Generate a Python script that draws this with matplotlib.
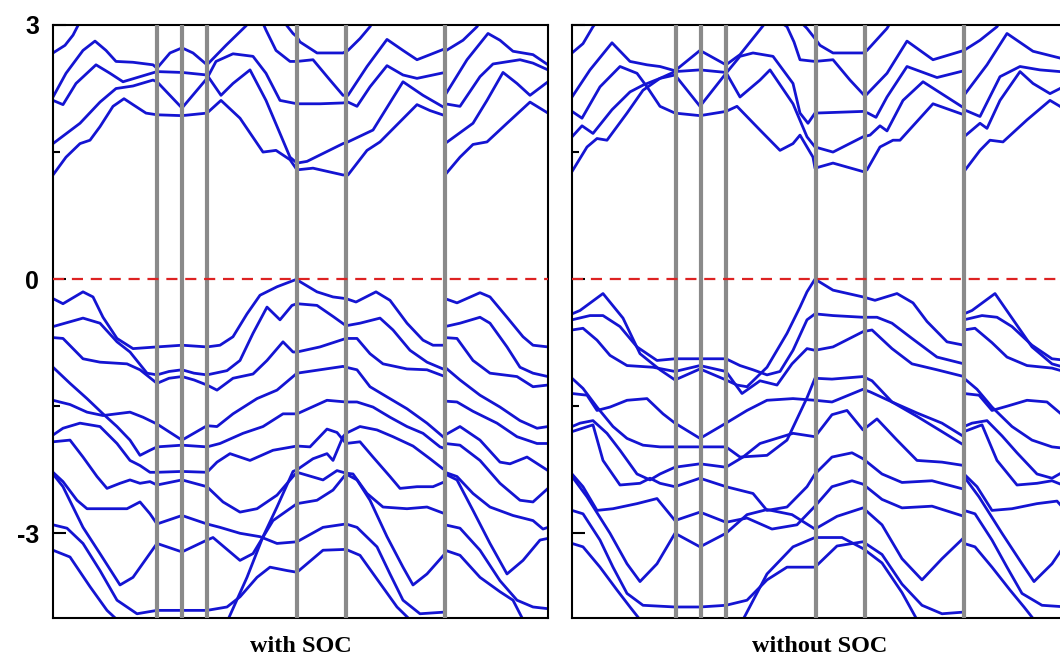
import matplotlib.pyplot as plt

# band structure along the k-path, energies in eV (E_F = 0)
k_lines = [1.04, 1.29, 1.54, 2.44, 2.93, 3.92]
k_end = 4.95
e_ticks = [-3, 0, 3]
e_minor = [-1.5, 1.5]
panel_titles = ["with SOC", "without SOC"]

# ---- with SOC ----
soc_cond = [
    [(0, 2.67), (0.12, 2.76), (0.20, 2.88), (0.27, 3.04)],
    [(0, 2.15), (0.13, 2.43), (0.30, 2.70), (0.42, 2.81), (0.53, 2.70), (0.63, 2.57), (0.80, 2.56),
     (1.00, 2.53), (1.04, 2.49), (1.17, 2.67), (1.29, 2.73), (1.40, 2.67), (1.54, 2.53), (1.73, 2.76),
     (1.93, 2.99), (2.00, 3.08)],
    [(0, 2.11), (0.10, 2.06), (0.23, 2.31), (0.43, 2.53), (0.57, 2.43), (0.70, 2.33), (0.87, 2.39),
     (1.04, 2.45), (1.29, 2.44), (1.54, 2.41), (1.68, 2.17), (1.80, 2.31), (1.97, 2.47), (2.13, 2.11),
     (2.27, 1.72), (2.37, 1.44), (2.44, 1.37), (2.54, 1.39), (2.90, 1.60), (2.95, 1.62), (3.20, 1.76),
     (3.50, 2.33), (3.70, 2.17), (3.92, 2.02)],
    [(0, 1.60), (0.27, 1.84), (0.47, 2.09), (0.63, 2.25), (0.80, 2.28), (1.00, 2.35), (1.04, 2.33),
     (1.29, 2.02), (1.54, 2.37), (1.63, 2.57), (1.80, 2.66), (2.00, 2.63), (2.13, 2.43), (2.27, 2.11),
     (2.44, 2.07), (2.67, 2.07), (2.90, 2.08), (2.95, 2.09), (3.04, 2.04), (3.17, 2.27), (3.34, 2.52),
     (3.50, 2.41), (3.64, 2.37), (3.92, 2.44)],
    [(0, 1.23), (0.13, 1.44), (0.27, 1.60), (0.37, 1.64), (0.47, 1.80), (0.60, 2.04), (0.71, 2.13),
     (0.80, 2.06), (0.93, 1.96), (1.04, 1.94), (1.29, 1.93), (1.54, 1.96), (1.68, 2.11), (1.87, 1.90),
     (2.10, 1.50), (2.23, 1.52), (2.37, 1.41), (2.44, 1.29), (2.60, 1.31), (2.90, 1.23), (2.95, 1.23),
     (3.14, 1.52), (3.27, 1.62), (3.64, 2.06), (3.77, 1.99), (3.92, 1.93)],
    [(2.10, 3.02), (2.13, 2.94), (2.23, 2.70), (2.37, 2.57), (2.44, 2.57), (2.60, 2.59), (2.77, 2.35),
     (2.90, 2.17), (2.95, 2.17), (3.14, 2.51), (3.34, 2.83), (3.50, 2.70), (3.64, 2.59), (3.77, 2.65),
     (3.92, 2.72)],
    [(2.32, 3.02), (2.40, 2.90), (2.44, 2.86), (2.47, 2.80), (2.64, 2.67), (2.90, 2.67), (2.95, 2.70),
     (3.07, 2.84), (3.17, 2.98), (3.20, 3.04)],
    # last segment
    [(3.92, 2.69), (4.10, 2.82), (4.24, 2.98), (4.27, 3.04)],
    [(3.92, 2.17), (4.14, 2.59), (4.35, 2.90), (4.47, 2.82), (4.60, 2.69), (4.80, 2.65), (4.95, 2.53)],
    [(3.92, 2.07), (4.07, 2.04), (4.27, 2.39), (4.40, 2.54), (4.67, 2.59), (4.80, 2.55), (4.95, 2.47)],
    [(3.92, 1.60), (4.20, 1.84), (4.34, 2.11), (4.50, 2.44), (4.64, 2.31), (4.77, 2.17), (4.95, 2.33)],
    [(3.92, 1.23), (4.07, 1.44), (4.20, 1.59), (4.34, 1.62), (4.54, 1.84), (4.77, 2.09), (4.95, 1.96)],
]

soc_val = [
    [(0, -0.23), (0.10, -0.29), (0.30, -0.15), (0.40, -0.21), (0.50, -0.45), (0.64, -0.70), (0.80, -0.82),
     (1.04, -0.80), (1.29, -0.78), (1.54, -0.80), (1.67, -0.78), (1.80, -0.68), (1.94, -0.41), (2.07, -0.19),
     (2.24, -0.09), (2.44, 0.0), (2.47, -0.03), (2.64, -0.15), (2.80, -0.21), (2.93, -0.23), (3.03, -0.27),
     (3.23, -0.15), (3.37, -0.25), (3.54, -0.52), (3.70, -0.72), (3.80, -0.78), (3.92, -0.78)],
    [(0, -0.56), (0.30, -0.46), (0.47, -0.52), (0.64, -0.74), (0.77, -0.86), (0.94, -1.11), (1.04, -1.13),
     (1.16, -1.09), (1.29, -1.07), (1.41, -1.11), (1.54, -1.13), (1.74, -1.08), (1.87, -0.96), (2.00, -0.64),
     (2.14, -0.33), (2.27, -0.48), (2.39, -0.31), (2.44, -0.29), (2.64, -0.31), (2.80, -0.44), (2.93, -0.55),
     (3.07, -0.52), (3.27, -0.46), (3.40, -0.60), (3.57, -0.84), (3.74, -0.98), (3.92, -1.07)],
    [(0, -0.69), (0.10, -0.70), (0.30, -0.94), (0.47, -0.98), (0.74, -1.00), (0.87, -1.07), (1.04, -1.23),
     (1.16, -1.17), (1.29, -1.15), (1.41, -1.19), (1.54, -1.25), (1.64, -1.31), (1.80, -1.17), (2.00, -1.12),
     (2.14, -0.96), (2.30, -0.74), (2.40, -0.86), (2.44, -0.86), (2.67, -0.80), (2.93, -0.70), (3.04, -0.70),
     (3.17, -0.88), (3.30, -1.00), (3.54, -1.06), (3.74, -1.07), (3.92, -1.15)],
    [(0, -1.04), (0.17, -1.23), (0.34, -1.41), (0.50, -1.59), (0.64, -1.74), (0.77, -1.90), (0.87, -2.08),
     (0.97, -2.02), (1.04, -1.98), (1.29, -1.96), (1.54, -1.98), (1.67, -1.94), (1.90, -1.82), (2.10, -1.74),
     (2.30, -1.59), (2.44, -1.59), (2.74, -1.43), (2.93, -1.45), (3.04, -1.45), (3.20, -1.51), (3.37, -1.63),
     (3.54, -1.74), (3.70, -1.82), (3.87, -1.98), (3.92, -2.00)],
    [(0, -1.43), (0.17, -1.48), (0.34, -1.57), (0.50, -1.61), (0.77, -1.57), (0.90, -1.63), (1.04, -1.71),
     (1.29, -1.90), (1.54, -1.73), (1.64, -1.74), (1.80, -1.59), (2.04, -1.41), (2.24, -1.31), (2.44, -1.11),
     (2.67, -1.07), (2.90, -1.03), (2.93, -1.04), (3.04, -1.07), (3.17, -1.27), (3.34, -1.39), (3.54, -1.53),
     (3.74, -1.70), (3.92, -1.88)],
    [(0, -1.84), (0.10, -1.76), (0.27, -1.70), (0.47, -1.74), (0.64, -1.94), (0.77, -2.14), (0.87, -2.20),
     (0.97, -2.28), (1.04, -2.28), (1.29, -2.27), (1.54, -2.28), (1.64, -2.16), (1.77, -2.06), (1.97, -2.14),
     (2.20, -2.02), (2.44, -1.97), (2.57, -1.98), (2.74, -1.77), (2.84, -1.81), (2.93, -1.94), (3.07, -1.92),
     (3.20, -2.10), (3.37, -2.33), (3.47, -2.47), (3.64, -2.45), (3.80, -2.45), (3.92, -2.39)],
    [(0, -1.92), (0.17, -1.90), (0.30, -2.10), (0.44, -2.33), (0.54, -2.47), (0.67, -2.41), (0.77, -2.37),
     (0.87, -2.41), (0.97, -2.39), (1.04, -2.43), (1.29, -2.37), (1.54, -2.45), (1.70, -2.63), (1.87, -2.75),
     (2.04, -2.71), (2.24, -2.55), (2.40, -2.33), (2.44, -2.28), (2.70, -2.37), (2.84, -2.26), (2.93, -2.29),
     (3.00, -2.30), (3.14, -2.53), (3.30, -2.69), (3.54, -2.71), (3.74, -2.69), (3.92, -2.77)],
    [(0, -2.28), (0.10, -2.39), (0.24, -2.61), (0.34, -2.71), (0.74, -2.71), (0.87, -2.63), (0.97, -2.77),
     (1.04, -2.89), (1.29, -2.79), (1.54, -2.89), (1.67, -2.93), (1.87, -3.00), (2.07, -3.04), (2.24, -3.12),
     (2.44, -3.10), (2.70, -2.93), (2.93, -2.89), (3.04, -2.93), (3.24, -3.16), (3.37, -3.48), (3.50, -3.79),
     (3.67, -3.95), (3.92, -3.93)],
    [(0, -2.30), (0.10, -2.45), (0.30, -2.93), (0.47, -3.24), (0.67, -3.61), (0.80, -3.52), (1.04, -3.12),
     (1.29, -3.22), (1.54, -3.08), (1.60, -3.05), (1.87, -3.32), (2.00, -3.24), (2.20, -2.85), (2.44, -2.65),
     (2.64, -2.61), (2.80, -2.49), (2.93, -2.30), (3.04, -2.37), (3.17, -2.61), (3.34, -3.04), (3.50, -3.40),
     (3.60, -3.61), (3.74, -3.48), (3.92, -3.24)],
    [(0, -2.90), (0.14, -2.94), (0.30, -3.12), (0.47, -3.44), (0.64, -3.79), (0.84, -3.95), (1.04, -3.91),
     (1.29, -3.91), (1.54, -3.91), (1.74, -3.87), (1.87, -3.75), (2.04, -3.52), (2.17, -3.40), (2.34, -3.44),
     (2.44, -3.46), (2.70, -3.20), (2.93, -3.19), (3.07, -3.26), (3.27, -3.59), (3.44, -3.87), (3.57, -4.02)],
    [(0, -3.20), (0.17, -3.28), (0.37, -3.63), (0.54, -3.91), (0.64, -4.02)],
    [(1.75, -4.02), (1.94, -3.52), (2.10, -3.04), (2.24, -2.69), (2.40, -2.27), (2.44, -2.25), (2.60, -2.12),
     (2.74, -2.06), (2.80, -2.14), (2.90, -1.86), (2.93, -1.82), (3.07, -1.74), (3.24, -1.78), (3.40, -1.86),
     (3.60, -1.97), (3.77, -2.12), (3.90, -2.24), (3.92, -2.25)],
    # last segment
    [(3.92, -0.23), (4.04, -0.28), (4.27, -0.16), (4.37, -0.21), (4.54, -0.45), (4.70, -0.68), (4.80, -0.78),
     (4.95, -0.80)],
    [(3.92, -0.56), (4.07, -0.52), (4.27, -0.45), (4.37, -0.52), (4.54, -0.80), (4.67, -1.04), (4.80, -1.11),
     (4.95, -1.15)],
    [(3.92, -0.69), (4.04, -0.70), (4.20, -0.96), (4.37, -1.11), (4.64, -1.15), (4.80, -1.27), (4.95, -1.25)],
    [(3.92, -1.04), (4.07, -1.19), (4.27, -1.37), (4.47, -1.51), (4.67, -1.67), (4.84, -1.76), (4.95, -1.74)],
    [(3.92, -1.44), (4.04, -1.45), (4.20, -1.56), (4.44, -1.70), (4.64, -1.86), (4.84, -1.94), (4.95, -1.94)],
    [(3.92, -1.84), (4.07, -1.74), (4.27, -1.90), (4.47, -2.16), (4.57, -2.18), (4.74, -2.10), (4.95, -2.26)],
    [(3.92, -1.94), (4.07, -1.96), (4.27, -2.14), (4.47, -2.41), (4.67, -2.61), (4.80, -2.63), (4.95, -2.47)],
    [(3.92, -2.28), (4.04, -2.33), (4.20, -2.53), (4.37, -2.69), (4.60, -2.79), (4.80, -2.85), (4.90, -2.95),
     (4.95, -2.93)],
    [(3.92, -2.30), (4.04, -2.37), (4.20, -2.73), (4.37, -3.12), (4.54, -3.48), (4.70, -3.32), (4.87, -3.08),
     (4.95, -3.06)],
    [(3.92, -2.90), (4.07, -2.94), (4.27, -3.20), (4.47, -3.56), (4.64, -3.79), (4.80, -3.87), (4.95, -3.89)],
    [(3.92, -3.20), (4.07, -3.26), (4.27, -3.52), (4.47, -3.69), (4.60, -3.79), (4.70, -4.02)],
]

# ---- without SOC ----
nosoc_cond = [
    [(0, 2.67), (0.11, 2.78), (0.21, 2.98), (0.25, 3.04)],
    [(0, 2.15), (0.18, 2.47), (0.40, 2.79), (0.58, 2.57), (0.75, 2.53), (0.88, 2.51), (1.03, 2.46),
     (1.28, 2.70), (1.54, 2.53), (1.68, 2.65), (1.91, 2.99), (1.95, 3.06)],
    [(0, 1.98), (0.10, 1.90), (0.28, 2.27), (0.48, 2.51), (0.65, 2.43), (0.75, 2.27), (0.88, 2.04),
     (1.03, 1.96), (1.28, 1.93), (1.54, 1.98), (1.65, 2.04), (1.88, 1.76), (2.08, 1.52), (2.21, 1.60),
     (2.28, 1.70), (2.41, 1.44), (2.43, 1.31), (2.61, 1.37), (2.91, 1.27), (2.95, 1.29), (3.08, 1.56),
     (3.21, 1.64), (3.28, 1.64), (3.61, 2.07), (3.92, 1.94)],
    [(0, 1.68), (0.10, 1.81), (0.21, 1.72), (0.40, 2.00), (0.58, 2.21), (0.71, 2.29), (0.88, 2.37),
     (1.03, 2.45), (1.28, 2.47), (1.54, 2.44), (1.68, 2.15), (1.88, 2.35), (1.98, 2.47), (2.21, 2.07),
     (2.35, 1.68), (2.43, 1.56), (2.61, 1.50), (2.91, 1.68), (2.98, 1.70), (3.08, 1.81), (3.15, 1.75),
     (3.31, 2.11), (3.51, 2.33), (3.92, 2.02)],
    [(0, 1.27), (0.15, 1.56), (0.25, 1.66), (0.35, 1.64), (0.55, 1.96), (0.71, 2.23), (0.88, 2.37),
     (1.03, 2.41), (1.28, 2.04), (1.54, 2.43), (1.68, 2.63), (1.81, 2.67), (2.01, 2.63), (2.21, 2.31),
     (2.28, 1.96), (2.36, 1.84), (2.43, 1.96), (2.91, 1.98), (2.96, 1.96), (3.04, 1.91), (3.15, 2.15),
     (3.35, 2.51), (3.65, 2.38), (3.92, 2.46)],
    [(2.10, 3.02), (2.15, 2.98), (2.22, 2.80), (2.28, 2.59), (2.43, 2.57), (2.61, 2.59), (2.78, 2.35),
     (2.93, 2.16), (3.15, 2.43), (3.35, 2.81), (3.61, 2.59), (3.92, 2.70)],
    [(2.30, 3.02), (2.35, 2.96), (2.43, 2.84), (2.48, 2.76), (2.61, 2.67), (2.91, 2.67), (2.95, 2.70),
     (3.15, 2.96), (3.18, 3.02)],
    [(3.92, 2.70), (4.08, 2.82), (4.25, 2.98), (4.28, 3.04)],
    [(3.92, 2.17), (4.15, 2.53), (4.35, 2.90), (4.61, 2.69), (4.88, 2.61), (4.95, 2.57)],
    [(3.92, 2.00), (4.08, 1.92), (4.28, 2.39), (4.48, 2.51), (4.68, 2.47), (4.88, 2.45), (4.95, 2.42)],
    [(3.92, 1.68), (4.08, 1.84), (4.15, 1.78), (4.28, 2.11), (4.48, 2.45), (4.61, 2.31), (4.78, 2.19),
     (4.88, 2.25), (4.95, 2.30)],
    [(3.92, 1.27), (4.08, 1.52), (4.18, 1.64), (4.31, 1.62), (4.55, 1.88), (4.78, 2.11), (4.88, 2.04),
     (4.95, 1.98)],
]

nosoc_val = [
    [(0, -0.41), (0.08, -0.37), (0.31, -0.17), (0.51, -0.46), (0.68, -0.88), (0.88, -1.07), (1.03, -1.19),
     (1.28, -1.06), (1.54, -1.19), (1.65, -1.25), (1.75, -1.27), (1.95, -1.04), (2.15, -0.64), (2.28, -0.33),
     (2.35, -0.15), (2.43, 0.0), (2.61, -0.13), (2.91, -0.21), (3.03, -0.25), (3.25, -0.17), (3.41, -0.28),
     (3.55, -0.50), (3.75, -0.74), (3.92, -0.78)],
    [(0, -0.48), (0.18, -0.43), (0.31, -0.43), (0.48, -0.56), (0.65, -0.80), (0.85, -0.96), (1.03, -0.94),
     (1.28, -0.94), (1.54, -0.94), (1.68, -1.02), (1.81, -1.07), (1.95, -1.13), (2.08, -1.09), (2.21, -0.84),
     (2.35, -0.48), (2.43, -0.41), (2.61, -0.43), (2.91, -0.45), (3.05, -0.45), (3.20, -0.52), (3.40, -0.70),
     (3.65, -0.92), (3.92, -1.00)],
    [(0, -0.60), (0.11, -0.58), (0.25, -0.72), (0.38, -0.90), (0.55, -1.02), (0.81, -1.04), (1.03, -1.09),
     (1.28, -1.02), (1.54, -1.09), (1.70, -1.35), (1.88, -1.20), (2.05, -1.25), (2.20, -1.00), (2.35, -0.82),
     (2.43, -0.84), (2.61, -0.80), (2.91, -0.62), (3.00, -0.60), (3.20, -0.82), (3.40, -1.00), (3.65, -1.07),
     (3.92, -1.15)],
    [(0, -1.17), (0.11, -1.29), (0.25, -1.51), (0.41, -1.74), (0.55, -1.88), (0.71, -1.96), (0.88, -1.98),
     (1.03, -1.98), (1.28, -1.98), (1.54, -1.98), (1.68, -2.10), (1.95, -2.08), (2.15, -1.90), (2.35, -1.40),
     (2.43, -1.17), (2.60, -1.18), (2.91, -1.15), (3.00, -1.20), (3.20, -1.45), (3.45, -1.58), (3.70, -1.70),
     (3.92, -1.86)],
    [(0, -1.35), (0.15, -1.37), (0.25, -1.55), (0.38, -1.51), (0.55, -1.43), (0.75, -1.41), (0.91, -1.59),
     (1.03, -1.70), (1.28, -1.88), (1.54, -1.70), (1.75, -1.55), (1.95, -1.43), (2.21, -1.41), (2.43, -1.43),
     (2.60, -1.45), (2.91, -1.30), (2.98, -1.33), (3.20, -1.45), (3.45, -1.62), (3.70, -1.80), (3.92, -1.96)],
    [(0, -1.74), (0.08, -1.70), (0.21, -1.67), (0.35, -1.82), (0.48, -2.02), (0.65, -2.30), (0.78, -2.37),
     (0.88, -2.30), (1.03, -2.22), (1.28, -2.18), (1.54, -2.22), (1.71, -2.10), (1.88, -1.94), (2.21, -1.82),
     (2.43, -1.86), (2.60, -1.60), (2.75, -1.55), (2.91, -1.78), (3.05, -1.65), (3.25, -1.90), (3.45, -2.14),
     (3.70, -2.16), (3.92, -2.20)],
    [(0, -1.80), (0.21, -1.72), (0.31, -2.14), (0.48, -2.43), (0.68, -2.41), (0.78, -2.35), (0.88, -2.41),
     (1.03, -2.45), (1.28, -2.35), (1.54, -2.45), (1.81, -2.53), (1.95, -2.73), (2.15, -2.69), (2.35, -2.45),
     (2.43, -2.30), (2.60, -2.10), (2.80, -2.05), (2.91, -2.12), (3.10, -2.30), (3.30, -2.40), (3.60, -2.38),
     (3.92, -2.48)],
    [(0, -2.30), (0.11, -2.45), (0.25, -2.73), (0.41, -2.71), (0.65, -2.65), (0.85, -2.59), (1.03, -2.85),
     (1.28, -2.75), (1.54, -2.87), (1.75, -2.82), (2.00, -2.95), (2.25, -2.90), (2.43, -2.68), (2.60, -2.45),
     (2.80, -2.38), (2.91, -2.42), (3.10, -2.60), (3.30, -2.70), (3.60, -2.68), (3.92, -2.80)],
    [(0, -2.33), (0.15, -2.57), (0.38, -3.00), (0.55, -3.36), (0.68, -3.57), (0.85, -3.36), (1.03, -3.00),
     (1.28, -3.16), (1.54, -3.00), (1.75, -2.78), (1.95, -2.72), (2.20, -2.78), (2.43, -2.95), (2.65, -2.80),
     (2.91, -2.70), (3.10, -2.90), (3.30, -3.30), (3.50, -3.55), (3.70, -3.30), (3.92, -3.05)],
    [(0, -2.73), (0.11, -2.77), (0.28, -3.08), (0.41, -3.40), (0.55, -3.71), (0.71, -3.85), (1.03, -3.87),
     (1.28, -3.87), (1.54, -3.85), (1.75, -3.79), (1.95, -3.55), (2.15, -3.40), (2.43, -3.40), (2.65, -3.15),
     (2.91, -3.10), (3.10, -3.25), (3.30, -3.60), (3.50, -3.85), (3.70, -3.95), (3.92, -3.93)],
    [(0, -3.12), (0.11, -3.16), (0.28, -3.40), (0.45, -3.67), (0.58, -3.87), (0.68, -4.02)],
    [(1.71, -4.02), (1.95, -3.48), (2.21, -3.16), (2.43, -3.05), (2.70, -3.05), (2.91, -3.18), (3.10, -3.35),
     (3.30, -3.70), (3.45, -4.02)],
    # last segment
    [(3.92, -0.41), (4.00, -0.37), (4.23, -0.17), (4.40, -0.46), (4.60, -0.80), (4.80, -1.00), (4.95, -1.05)],
    [(3.92, -0.48), (4.10, -0.43), (4.25, -0.45), (4.40, -0.56), (4.60, -0.78), (4.80, -0.94), (4.95, -0.96)],
    [(3.92, -0.60), (4.03, -0.58), (4.20, -0.75), (4.35, -0.92), (4.55, -1.02), (4.80, -1.05), (4.95, -1.10)],
    [(3.92, -1.17), (4.05, -1.30), (4.20, -1.51), (4.40, -1.74), (4.60, -1.90), (4.80, -1.98), (4.95, -2.00)],
    [(3.92, -1.35), (4.07, -1.37), (4.20, -1.55), (4.35, -1.50), (4.55, -1.43), (4.75, -1.45), (4.95, -1.65)],
    [(3.92, -1.74), (4.00, -1.70), (4.15, -1.67), (4.30, -1.85), (4.45, -2.05), (4.65, -2.30), (4.80, -2.35),
     (4.95, -2.25)],
    [(3.92, -1.80), (4.10, -1.72), (4.25, -2.14), (4.45, -2.43), (4.65, -2.41), (4.80, -2.38), (4.95, -2.45)],
    [(3.92, -2.30), (4.05, -2.45), (4.20, -2.73), (4.40, -2.71), (4.65, -2.65), (4.85, -2.62), (4.95, -2.75)],
    [(3.92, -2.33), (4.07, -2.57), (4.30, -3.00), (4.50, -3.36), (4.62, -3.57), (4.80, -3.36), (4.95, -3.10)],
    [(3.92, -2.73), (4.03, -2.77), (4.20, -3.08), (4.35, -3.40), (4.50, -3.71), (4.70, -3.85), (4.95, -3.87)],
    [(3.92, -3.12), (4.03, -3.16), (4.20, -3.40), (4.38, -3.67), (4.52, -3.87), (4.62, -4.02)],
]

blue = '#1414d2'
grey = '#8a8a8a'
red = '#dd2222'


def draw_panel(ax, bands, title, show_labels):
    for b in bands:
        k = [p[0] for p in b]
        e = [p[1] for p in b]
        ax.plot(k, e, color=blue, lw=2.0, solid_joinstyle='round', solid_capstyle='round', zorder=2)
    for x in k_lines:
        ax.axvline(x, color=grey, lw=3.0, zorder=3)
    ax.axhline(0, color=red, lw=1.6, ls=(0, (5, 3.5)), zorder=4)
    ax.set_xlim(0, k_end)
    ax.set_ylim(-4, 3)
    ax.set_xticks([])
    ax.set_yticks(e_ticks)
    ax.set_yticks(e_minor, minor=True)
    ax.tick_params(axis='y', which='major', direction='in', length=9, width=1.5, pad=10)
    ax.tick_params(axis='y', which='minor', direction='in', length=5, width=1.5)
    if show_labels:
        ax.set_yticklabels([str(t) for t in e_ticks], fontsize=18, fontweight='bold',
                           family='Liberation Sans')
    else:
        ax.set_yticklabels([])
    for s in ax.spines.values():
        s.set_linewidth(1.5)
    ax.set_xlabel(title, fontsize=17.5, fontweight='bold', family='Liberation Serif', labelpad=13)


fig = plt.figure(figsize=(10.6, 6.64), dpi=100)
ax1 = fig.add_axes([53 / 1060, 46 / 664, 495 / 1060, 593 / 664])
ax2 = fig.add_axes([572 / 1060, 46 / 664, 495 / 1060, 593 / 664])

draw_panel(ax1, soc_cond + soc_val, panel_titles[0], True)
draw_panel(ax2, nosoc_cond + nosoc_val, panel_titles[1], False)

fig.savefig('out.png', dpi=100)
